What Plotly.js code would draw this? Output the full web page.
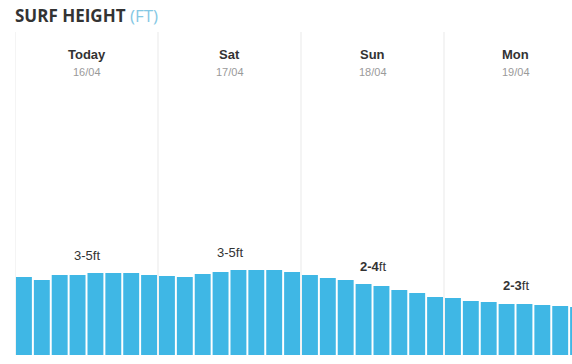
<!DOCTYPE html>
<html>
<head>
<meta charset="utf-8">
<script src="https://cdn.plot.ly/plotly-3.0.1.min.js"></script>
<style>
html,body{margin:0;padding:0;background:#fff;overflow:hidden;}
#chart{width:572px;height:364px;}
</style>
</head>
<body>
<div id="chart"></div>
<script>
// Data
const dayNames = ["Today", "Sat", "Sun", "Mon"];
const dayDates = ["16/04", "17/04", "18/04", "19/04"];
const dayRanges = ["3-5ft", "3-5ft", "<b>2-4</b>ft", "<b>2-3</b>ft"];
const surfToday = [3.9, 3.75, 4.0, 4.0, 4.1, 4.1, 4.1, 4.0];
const surfSat   = [3.95, 3.9, 4.05, 4.15, 4.25, 4.25, 4.25, 4.15];
const surfSun   = [4.0, 3.85, 3.75, 3.55, 3.45, 3.25, 3.1, 2.9];
const surfMon   = [2.85, 2.7, 2.65, 2.55, 2.55, 2.5, 2.45, 2.4];

const daySeries = [surfToday, surfSat, surfSun, surfMon];
const perDay = 8;
const yValues = [].concat(...daySeries);
const xValues = yValues.map((_, i) => i);

const trace = {
  type: "bar",
  x: xValues,
  y: yValues,
  marker: {color: "#3fb7e5", line: {width: 0}},
  hoverinfo: "none"
};

const annotations = [];
const shapes = [];
daySeries.forEach((vals, d) => {
  const cx = d * perDay + (perDay - 1) / 2;
  annotations.push({
    x: cx, xref: "x", y: 1 - (54 - 32) / 323, yref: "paper",
    text: "<b>" + dayNames[d] + "</b>", showarrow: false,
    font: {family: "Liberation Sans, Arial, sans-serif", size: 13, color: "#333333"},
    xanchor: "center", yanchor: "middle"
  });
  annotations.push({
    x: cx, xref: "x", y: 1 - (72 - 32) / 323, yref: "paper",
    text: dayDates[d], showarrow: false,
    font: {family: "Liberation Sans, Arial, sans-serif", size: 11, color: "#9a9a9a"},
    xanchor: "center", yanchor: "middle"
  });
  const mid = (vals[3] + vals[4]) / 2;
  annotations.push({
    x: cx, xref: "x", y: mid, yref: "y",
    text: dayRanges[d], showarrow: false, yshift: 19,
    font: {family: "Liberation Sans, Arial, sans-serif", size: 13, color: "#333333"},
    xanchor: "center", yanchor: "middle"
  });
  shapes.push({
    type: "line", xref: "x", yref: "paper",
    x0: d * perDay - 0.5, x1: d * perDay - 0.5, y0: 0, y1: 1,
    line: {color: "#e9e9e9", width: 1}, layer: "below"
  });
});

const layout = {
  width: 572, height: 364,
  margin: {l: 15, r: 0, t: 32, b: 9},
  paper_bgcolor: "#ffffff", plot_bgcolor: "#ffffff",
  bargap: 0.11,
  showlegend: false,
  title: {
    text: "<b>SURF HEIGHT</b> <span style=\"color:#85c8e4\">(FT)</span>",
    font: {family: "Open Sans, sans-serif", size: 17, color: "#333333"},
    xref: "container", yref: "container",
    x: 15 / 572, xanchor: "left",
    y: 1 - 16 / 364, yanchor: "middle"
  },
  xaxis: {range: [-0.5, 30.66], showgrid: false, zeroline: false, showticklabels: false, ticks: "", showline: false, fixedrange: true},
  yaxis: {range: [0, 16.15], showgrid: false, zeroline: false, showticklabels: false, ticks: "", showline: false, fixedrange: true},
  annotations: annotations,
  shapes: shapes
};

Plotly.newPlot("chart", [trace], layout, {displayModeBar: false, staticPlot: true});
</script>
</body>
</html>
